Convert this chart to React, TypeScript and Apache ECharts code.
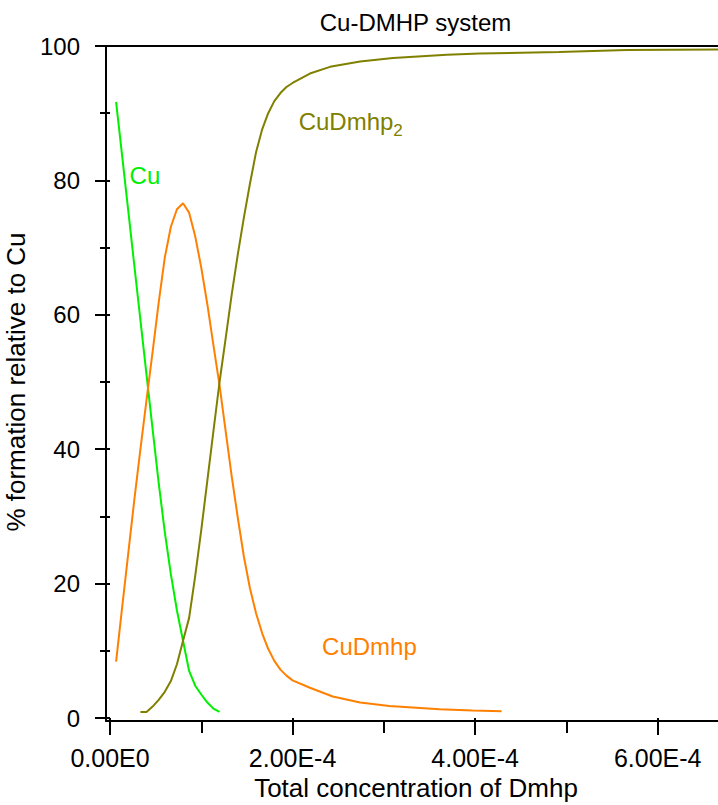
import React, { useEffect, useRef } from 'react';
import * as echarts from 'echarts';

const FONT = '"Liberation Sans", Arial, Helvetica, sans-serif';

const TITLE = 'Cu-DMHP system';
const X_NAME = 'Total concentration of Dmhp';
const Y_NAME = '% formation relative to Cu';

// Free Cu (%), by total Dmhp concentration (mol/L)
const cuConc = [
  6.67e-6, 1.333e-5, 2.0e-5, 2.667e-5, 3.333e-5, 4.0e-5, 4.667e-5, 5.333e-5, 6.0e-5,
  6.667e-5, 7.333e-5, 8.0e-5, 8.667e-5, 9.333e-5, 1.0e-4, 1.067e-4, 1.133e-4, 1.2e-4,
];
const cuPct = [
  91.7, 83.6, 75.5, 67.3, 59.2, 51.1, 43.0, 35.0, 27.7,
  21.4, 16.0, 11.5, 7.0, 4.8, 3.5, 2.3, 1.4, 0.9,
];

// CuDmhp (%)
const cuLConc = [
  6.67e-6, 1.333e-5, 2.0e-5, 2.667e-5, 3.333e-5, 4.0e-5, 4.667e-5, 5.333e-5, 6.0e-5, 6.667e-5,
  7.333e-5, 8.0e-5, 8.667e-5, 9.333e-5, 1.0e-4, 1.067e-4, 1.133e-4, 1.2e-4, 1.267e-4, 1.333e-4,
  1.4e-4, 1.467e-4, 1.533e-4, 1.6e-4, 1.667e-4, 1.733e-4, 1.8e-4, 1.867e-4, 1.933e-4, 2.0e-4,
  2.19e-4, 2.44e-4, 2.74e-4, 3.06e-4, 3.61e-4, 3.97e-4, 4.29e-4,
];
const cuLPct = [
  8.4, 16.5, 24.5, 32.5, 40.0, 47.3, 54.5, 61.8, 68.5, 73.1,
  75.7, 76.6, 75.2, 71.7, 67.0, 61.5, 55.5, 49.5, 42.7, 36.0,
  29.8, 24.0, 19.3, 15.6, 12.6, 10.3, 8.5, 7.2, 6.3, 5.6,
  4.5, 3.2, 2.3, 1.8, 1.3, 1.1, 1.0,
];

// CuDmhp2 (%)
const cuL2Conc = [
  3.333e-5, 4.0e-5, 4.667e-5, 5.333e-5, 6.0e-5, 6.667e-5, 7.333e-5, 8.0e-5, 8.667e-5, 9.333e-5,
  1.0e-4, 1.067e-4, 1.133e-4, 1.2e-4, 1.267e-4, 1.333e-4, 1.4e-4, 1.467e-4, 1.533e-4, 1.6e-4,
  1.667e-4, 1.733e-4, 1.8e-4, 1.867e-4, 1.933e-4, 2.0e-4,
  2.19e-4, 2.41e-4, 2.74e-4, 3.1e-4, 3.69e-4, 4.05e-4, 4.92e-4, 5.66e-4, 6.77e-4,
];
const cuL2Pct = [
  0.9, 0.9, 1.7, 2.7, 3.9, 5.5, 8.0, 11.5, 14.9, 21.1,
  28.0, 35.4, 42.7, 50.0, 56.5, 63.0, 69.0, 74.5, 79.5, 84.2,
  87.6, 90.0, 91.8, 93.0, 93.9, 94.5,
  95.9, 96.9, 97.7, 98.2, 98.7, 98.9, 99.1, 99.4, 99.5,
];

// Species labels anchored in data coordinates [concentration, %]
const cuLabelAt = [3.83e-5, 80.8];
const cuLLabelAt = [2.842e-4, 10.6];
const cuL2LabelAt = [2.637e-4, 88.7];

const X_MAX = 6.77e-4;
const X_MAJOR = 2e-4;
const X_MINOR = 1e-4;

const COLORS = { cu: '#00f000', cuL: '#ff8000', cuL2: '#808000' };

const pairs = (xs: number[], ys: number[]) => xs.map((x, i) => [x, ys[i]]);

const sci = (v: number) => {
  if (Math.abs(v) < 1e-12) return '0.00E0';
  const e = Math.floor(Math.log10(Math.abs(v)) + 1e-9);
  const m = v / Math.pow(10, e);
  return m.toFixed(2) + 'E' + e;
};

const labelPoint = (coord: number[], text: string, color: string, rich?: any) => ({
  silent: true,
  symbol: 'circle',
  symbolSize: 1,
  itemStyle: { color: 'rgba(0,0,0,0)' },
  data: [
    {
      coord,
      label: {
        show: true,
        position: 'inside',
        formatter: text,
        color,
        fontSize: 24,
        fontFamily: FONT,
        ...(rich ? { rich } : {}),
      },
    },
  ],
});

export default function App() {
  const ref = useRef<HTMLDivElement>(null);

  useEffect(() => {
    if (!ref.current) return;
    const chart = echarts.init(ref.current, undefined, { renderer: 'svg' });
    const black = '#000';
    const tickStyle = { color: black, width: 2 };

    chart.setOption({
      animation: false,
      backgroundColor: '#fff',
      title: {
        text: TITLE,
        left: 415.5,
        top: 10,
        padding: 0,
        textAlign: 'center',
        textVerticalAlign: 'top',
        textStyle: { fontSize: 24, fontWeight: 'normal', color: black, fontFamily: FONT },
      },
      grid: [
        // plotting area
        { left: 110, right: -10, top: 46, bottom: 87, outerBoundsMode: 'none', containLabel: false },
        // frame lines
        { left: 106, right: -10, top: 46, bottom: 84, outerBoundsMode: 'none', containLabel: false },
      ],
      xAxis: [
        {
          type: 'value',
          gridIndex: 0,
          position: 'bottom',
          min: 0,
          max: X_MAX,
          interval: X_MAJOR,
          offset: 3,
          axisLine: { show: false },
          axisTick: { show: true, length: 17, lineStyle: tickStyle },
          splitLine: { show: false },
          axisLabel: {
            margin: 24,
            color: black,
            fontSize: 25,
            fontFamily: FONT,
            showMaxLabel: false,
            formatter: (v: number) => {
              const n = v / X_MAJOR;
              return Math.abs(n - Math.round(n)) < 1e-6 ? sci(v) : '';
            },
          },
          name: X_NAME,
          nameLocation: 'middle',
          nameGap: 47,
          nameTextStyle: { color: black, fontSize: 26, fontFamily: FONT, padding: [0, 6, 0, 0] },
        },
        {
          type: 'value',
          gridIndex: 0,
          position: 'bottom',
          min: 0,
          max: X_MAX,
          interval: X_MINOR,
          offset: 3,
          axisLine: { show: false },
          axisTick: { show: true, length: 12, lineStyle: tickStyle },
          splitLine: { show: false },
          axisLabel: { show: false },
        },
        {
          type: 'value',
          gridIndex: 1,
          min: 0,
          max: 1,
          position: 'bottom',
          axisLine: { show: true, lineStyle: { color: black, width: 2 } },
          axisTick: { show: false },
          axisLabel: { show: false },
          splitLine: { show: false },
        },
        {
          type: 'value',
          gridIndex: 1,
          min: 0,
          max: 1,
          position: 'top',
          axisLine: { show: true, lineStyle: { color: black, width: 2 } },
          axisTick: { show: false },
          axisLabel: { show: false },
          splitLine: { show: false },
        },
      ],
      yAxis: [
        {
          type: 'value',
          gridIndex: 0,
          position: 'left',
          min: 0,
          max: 100,
          interval: 20,
          offset: 4,
          axisLine: { show: false },
          axisTick: { show: true, length: 15, lineStyle: tickStyle },
          minorTick: { show: true, splitNumber: 2, length: 10, lineStyle: tickStyle },
          splitLine: { show: false },
          minorSplitLine: { show: false },
          axisLabel: { margin: 26, color: black, fontSize: 24, fontFamily: FONT },
          name: Y_NAME,
          nameLocation: 'middle',
          nameGap: 71,
          nameTextStyle: { color: black, fontSize: 26, fontFamily: FONT },
        },
        {
          type: 'value',
          gridIndex: 1,
          min: 0,
          max: 1,
          position: 'left',
          axisLine: { show: true, lineStyle: { color: black, width: 2 } },
          axisTick: { show: false },
          axisLabel: { show: false },
          splitLine: { show: false },
        },
      ],
      series: [
        {
          name: 'Cu',
          type: 'line',
          xAxisIndex: 0,
          yAxisIndex: 0,
          data: pairs(cuConc, cuPct),
          showSymbol: false,
          symbol: 'none',
          lineStyle: { color: COLORS.cu, width: 2 },
          itemStyle: { color: COLORS.cu },
          markPoint: labelPoint(cuLabelAt, 'Cu', COLORS.cu),
        },
        {
          name: 'CuDmhp',
          type: 'line',
          xAxisIndex: 0,
          yAxisIndex: 0,
          data: pairs(cuLConc, cuLPct),
          showSymbol: false,
          symbol: 'none',
          lineStyle: { color: COLORS.cuL, width: 2 },
          itemStyle: { color: COLORS.cuL },
          markPoint: labelPoint(cuLLabelAt, 'CuDmhp', COLORS.cuL),
        },
        {
          name: 'CuDmhp2',
          type: 'line',
          xAxisIndex: 0,
          yAxisIndex: 0,
          data: pairs(cuL2Conc, cuL2Pct),
          showSymbol: false,
          symbol: 'none',
          lineStyle: { color: COLORS.cuL2, width: 2 },
          itemStyle: { color: COLORS.cuL2 },
          markPoint: labelPoint(cuL2LabelAt, '{a|CuDmhp}{b|2}', COLORS.cuL2, {
            a: { fontSize: 24, color: COLORS.cuL2, fontFamily: FONT },
            b: { fontSize: 17, color: COLORS.cuL2, fontFamily: FONT, padding: [18, 0, 0, 0] },
          }),
        },
      ],
    });

    return () => chart.dispose();
  }, []);

  return (
    <div
      ref={ref}
      style={{ position: 'fixed', left: 0, top: 0, width: 718, height: 805, background: '#fff' }}
    />
  );
}
